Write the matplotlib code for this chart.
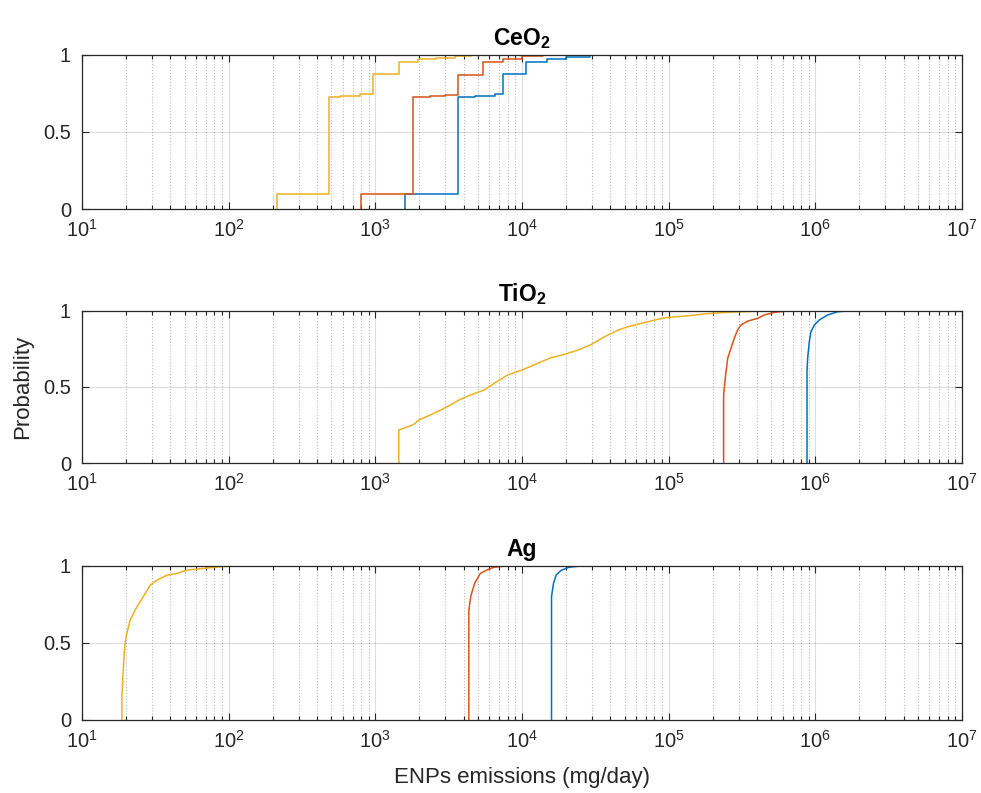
import numpy as np
import matplotlib
matplotlib.use('Agg')
import matplotlib.pyplot as plt
from matplotlib.ticker import FixedLocator, LogLocator, NullFormatter, LogFormatterSciNotation

plt.rcParams['font.family'] = ['Liberation Sans', 'DejaVu Sans']
plt.rcParams['mathtext.fontset'] = 'custom'
plt.rcParams['mathtext.rm'] = 'Liberation Sans'
plt.rcParams['mathtext.it'] = 'Liberation Sans:italic'
plt.rcParams['mathtext.bf'] = 'Liberation Sans:bold'

# colours (MATLAB default order)
c_blue = '#0072BD'
c_orange = '#D95319'
c_yellow = '#EDB120'

# ---- CeO2: jump positions (mg/day) and cumulative probability after each jump
ceo2_blue_x = [1590, 3640, 4770, 6540, 7380, 10700, 14700, 20000, 29000]
ceo2_blue_p = [0.10, 0.724, 0.735, 0.745, 0.875, 0.95, 0.97, 0.985, 1.0]
ceo2_orange_x = [795, 1810, 2360, 2980, 3670, 5400, 7400, 10000, 13800]
ceo2_orange_p = [0.10, 0.724, 0.73, 0.74, 0.87, 0.95, 0.975, 0.99, 1.0]
ceo2_yellow_x = [212, 483, 574, 785, 968, 1450, 1950, 2600, 3500, 4500]
ceo2_yellow_p = [0.10, 0.724, 0.73, 0.745, 0.875, 0.95, 0.97, 0.98, 0.99, 1.0]

# ---- TiO2
tio2_blue_x = [878000, 887000, 910000, 934000, 985000, 1065000, 1213000, 1420000, 1750000]
tio2_blue_p = [0.60, 0.69, 0.797, 0.862, 0.906, 0.939, 0.972, 0.993, 1.0]
tio2_orange_x = [237000, 240000, 246000, 253000, 266000, 280000, 295000, 311000,
                 346000, 405000, 449000, 525000, 647000, 798000]
tio2_orange_p = [0.45, 0.50, 0.60, 0.69, 0.753, 0.819, 0.873, 0.906,
                 0.932, 0.95, 0.972, 0.989, 0.998, 1.0]
tio2_yellow_x = [1445, 1563, 1830, 1980, 2380, 2790, 3260, 3720, 4480, 5520, 6470,
                 7980, 10000, 12800, 15800, 19500, 24100, 29700, 36600, 45200,
                 52900, 65300, 80500, 94400, 130000, 180000, 260000, 500000]
tio2_yellow_p = [0.218, 0.229, 0.255, 0.284, 0.317, 0.349, 0.382, 0.415, 0.448, 0.48, 0.524,
                 0.579, 0.611, 0.655, 0.692, 0.714, 0.742, 0.779, 0.83, 0.873,
                 0.895, 0.917, 0.939, 0.954, 0.965, 0.98, 0.99, 1.0]

# ---- Ag
ag_blue_x = [15900, 16400, 17100, 18500, 20900, 25900]
ag_blue_p = [0.80, 0.885, 0.94, 0.97, 0.99, 1.0]
ag_orange_x = [4340, 4470, 4750, 5200, 5690, 6420, 7710, 9810]
ag_orange_p = [0.71, 0.80, 0.885, 0.95, 0.97, 0.99, 0.998, 1.0]
ag_yellow_x = [18.7, 19.0, 19.4, 19.7, 20.2, 21.3, 23.0, 24.9, 27.0, 29.2, 32.5,
               38.0, 44.5, 52.2, 68.0, 88.5, 115, 129]
ag_yellow_p = [0.15, 0.28, 0.43, 0.50, 0.56, 0.647, 0.712, 0.766, 0.82, 0.874, 0.907,
               0.939, 0.95, 0.972, 0.983, 0.994, 0.999, 1.0]

x_major = [1e1, 1e2, 1e3, 1e4, 1e5, 1e6, 1e7]
y_ticks = [0, 0.5, 1]
y_labels = ['0', '0.5', '1']

panels = [
    (r'CeO$_\mathbf{2}$', True,
     [(ceo2_blue_x, ceo2_blue_p, c_blue), (ceo2_orange_x, ceo2_orange_p, c_orange),
      (ceo2_yellow_x, ceo2_yellow_p, c_yellow)]),
    (r'TiO$_\mathbf{2}$', False,
     [(tio2_blue_x, tio2_blue_p, c_blue), (tio2_orange_x, tio2_orange_p, c_orange),
      (tio2_yellow_x, tio2_yellow_p, c_yellow)]),
    ('Ag', False,
     [(ag_blue_x, ag_blue_p, c_blue), (ag_orange_x, ag_orange_p, c_orange),
      (ag_yellow_x, ag_yellow_p, c_yellow)]),
]

fig = plt.figure(figsize=(9.81, 7.93), dpi=100)
left, width = 0.0836, 0.897
boxes = [(0.7361, 0.1950), (0.4158, 0.1924), (0.0924, 0.1942)]
dark = '#262626'

axes = []
for (bottom, height), (title, steps, series) in zip(boxes, panels):
    ax = fig.add_axes([left, bottom, width, height])
    for x, p, col in series:
        xs = np.r_[x[0], x]
        ps = np.r_[0.0, p]
        if steps:
            ax.step(xs, ps, where='post', color=col, lw=1.1)
        else:
            ax.plot(xs, ps, color=col, lw=1.1)

    ax.set_xscale('log')
    ax.set_xlim(10, 1e7)
    ax.set_ylim(0, 1)
    ax.set_yticks(y_ticks)
    ax.set_yticklabels(y_labels)
    ax.xaxis.set_major_locator(FixedLocator(x_major))
    ax.xaxis.set_major_formatter(LogFormatterSciNotation())
    ax.xaxis.set_minor_locator(LogLocator(base=10, subs=np.arange(2, 10), numticks=100))
    ax.xaxis.set_minor_formatter(NullFormatter())

    ax.tick_params(which='both', direction='in', top=True, right=True,
                   color=dark, labelcolor=dark, width=0.8)
    ax.tick_params(which='major', length=5, labelsize=14.5)
    ax.tick_params(which='minor', length=3)
    ax.tick_params(axis='x', pad=7)
    ax.tick_params(axis='y', pad=8)
    for s in ax.spines.values():
        s.set_color(dark)
        s.set_linewidth(0.9)

    ax.grid(True, which='major', color=dark, alpha=0.15, lw=0.8)
    ax.grid(True, which='minor', axis='x', color=dark, alpha=0.3, ls=':', lw=0.8)
    ax.set_axisbelow(True)

    ax.set_title(title, fontsize=16.5, fontweight='bold', color='black', pad=7)
    axes.append(ax)

axes[1].set_ylabel('Probability', fontsize=16, color=dark)
axes[1].yaxis.set_label_coords(-0.056, 0.5)
axes[2].set_xlabel('ENPs emissions (mg/day)', fontsize=16, color=dark)
axes[2].xaxis.set_label_coords(0.5, -0.31)

fig.savefig('out.png', dpi=100)
